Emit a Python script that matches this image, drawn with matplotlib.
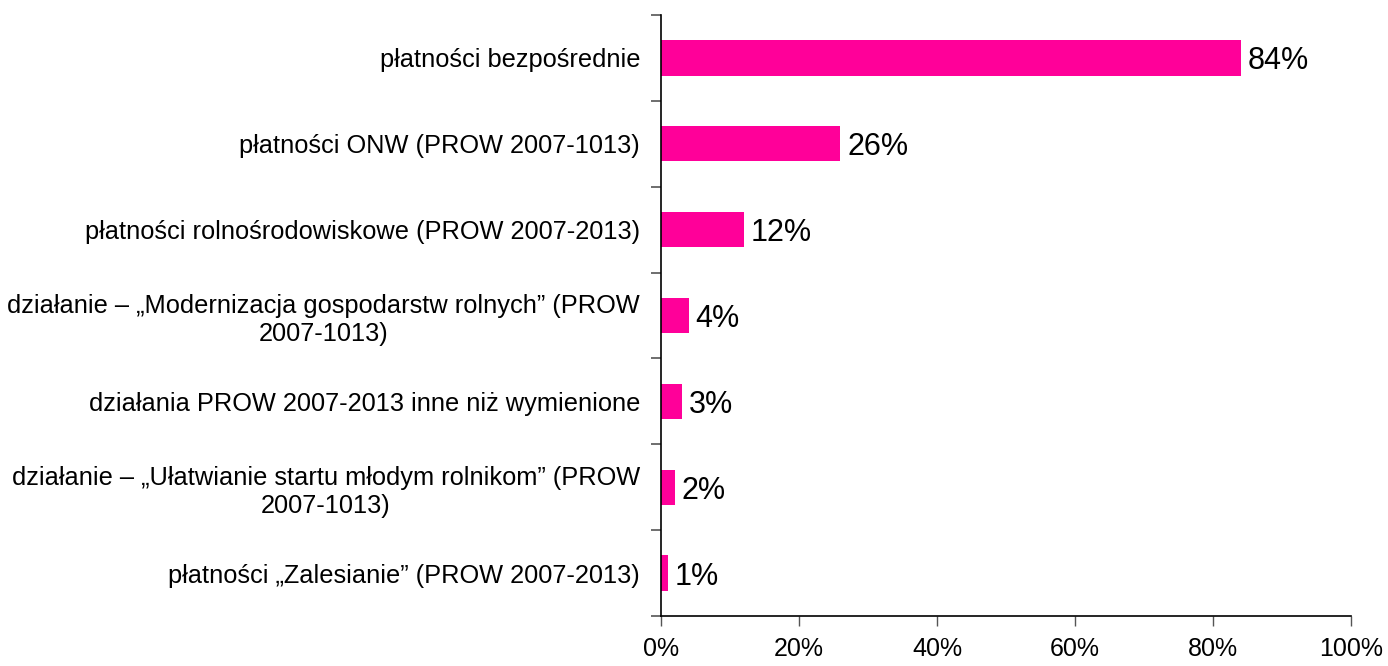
import numpy as np
import matplotlib.pyplot as plt

plt.rcParams['font.family'] = ['Liberation Sans', 'DejaVu Sans']

categories = [
    "płatności bezpośrednie",
    "płatności ONW (PROW 2007-1013)",
    "płatności rolnośrodowiskowe (PROW 2007-2013)",
    "działanie – „Modernizacja gospodarstw rolnych” (PROW\n2007-1013)",
    "działania PROW 2007-2013 inne niż wymienione",
    "działanie – „Ułatwianie startu młodym rolnikom” (PROW\n2007-1013)",
    "płatności „Zalesianie” (PROW 2007-2013)",
]
values = [84, 26, 12, 4, 3, 2, 1]
xticks = [0, 20, 40, 60, 80, 100]

fig = plt.figure(figsize=(13.88, 6.66), dpi=100)
ax = fig.add_axes([661 / 1388, 1 - 616 / 666, 690 / 1388, 601 / 666])

y = np.arange(len(categories))
ax.barh(y, values, height=0.41, color="#ff0099")
for yi, v in zip(y, values):
    ax.text(v + 1.0, yi + 0.04, "%d%%" % v, va="center", ha="left", fontsize=22)

ax.set_ylim(len(categories) - 0.5, -0.5)
ax.set_xlim(0, 100)

ax.set_yticks(y)
ax.set_yticklabels(categories, fontsize=18.3)
for lbl in ax.get_yticklabels():
    lbl.set_multialignment("center")
ax.tick_params(axis="y", which="major", length=0, pad=15)
ax.set_yticks(np.arange(len(categories) + 1) - 0.5, minor=True)
ax.tick_params(axis="y", which="minor", length=7, width=1.2, color="#555555", direction="out")

ax.set_xticks(xticks)
ax.set_xticklabels(["%d%%" % t for t in xticks], fontsize=18)
ax.tick_params(axis="x", length=7, width=1, color="#555555", direction="out", pad=8)

for s in ["top", "right"]:
    ax.spines[s].set_visible(False)
ax.spines["left"].set_linewidth(1.2)
ax.spines["bottom"].set_linewidth(1.2)

fig.savefig("out.png", dpi=100)
